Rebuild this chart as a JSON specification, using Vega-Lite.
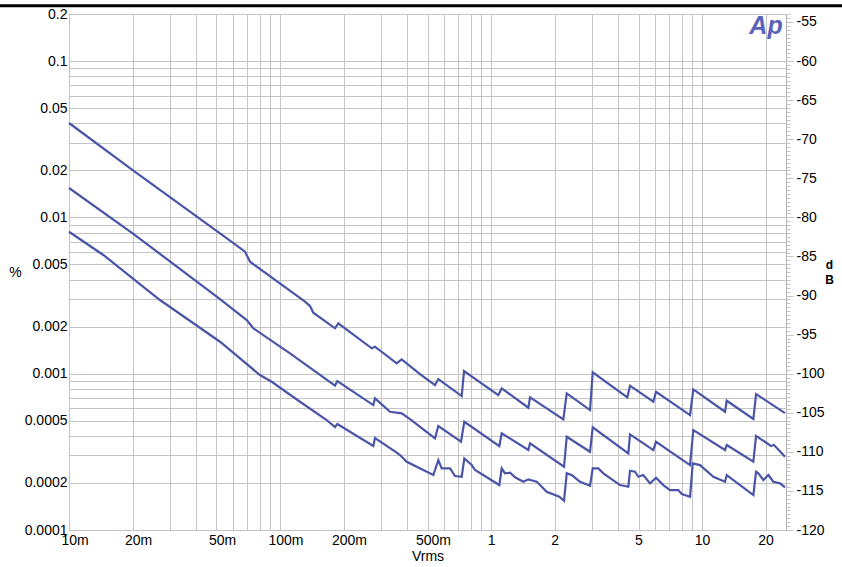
{
  "$schema": "https://vega.github.io/schema/vega-lite/v6.json",
  "width": 717,
  "height": 516,
  "autosize": {"type": "none"},
  "padding": {"left": 69, "top": 14, "right": 56, "bottom": 37},
  "background": "white",
  "config": {
    "view": {"stroke": "#b0b0b0", "strokeWidth": 1},
    "font": "Liberation Sans",
    "axis": {"labelFont": "Liberation Sans", "titleFont": "Liberation Sans"}
  },
  "datasets": {
    "curves": [
      {"s": "a", "v": 0.01, "pct": 0.04015},
      {"s": "a", "v": 0.02003, "pct": 0.020088},
      {"s": "a", "v": 0.05195, "pct": 0.0079057},
      {"s": "a", "v": 0.06827, "pct": 0.0060309},
      {"s": "a", "v": 0.0721, "pct": 0.0052033},
      {"s": "a", "v": 0.13136, "pct": 0.0028862},
      {"s": "a", "v": 0.13874, "pct": 0.0027078},
      {"s": "a", "v": 0.14382, "pct": 0.0024543},
      {"s": "a", "v": 0.18222, "pct": 0.0019513},
      {"s": "a", "v": 0.18889, "pct": 0.0020996},
      {"s": "a", "v": 0.27202, "pct": 0.001453},
      {"s": "a", "v": 0.28199, "pct": 0.0014876},
      {"s": "a", "v": 0.35725, "pct": 0.0011645},
      {"s": "a", "v": 0.37728, "pct": 0.0012352},
      {"s": "a", "v": 0.46075, "pct": 0.00099483},
      {"s": "a", "v": 0.54269, "pct": 0.0008463},
      {"s": "a", "v": 0.56264, "pct": 0.0009241},
      {"s": "a", "v": 0.72629, "pct": 0.00071938},
      {"s": "a", "v": 0.74472, "pct": 0.0010397},
      {"s": "a", "v": 1.0829, "pct": 0.00073007},
      {"s": "a", "v": 1.1238, "pct": 0.00080597},
      {"s": "a", "v": 1.5026, "pct": 0.00060547},
      {"s": "a", "v": 1.5307, "pct": 0.00070574},
      {"s": "a", "v": 1.8364, "pct": 0.00060013},
      {"s": "a", "v": 2.2013, "pct": 0.00051049},
      {"s": "a", "v": 2.2847, "pct": 0.00074859},
      {"s": "a", "v": 2.946, "pct": 0.00058527},
      {"s": "a", "v": 3.034, "pct": 0.00102},
      {"s": "a", "v": 4.4255, "pct": 0.00070574},
      {"s": "a", "v": 4.5579, "pct": 0.00083762},
      {"s": "a", "v": 5.8774, "pct": 0.00066124},
      {"s": "a", "v": 6.0531, "pct": 0.00076624},
      {"s": "a", "v": 8.7725, "pct": 0.00054384},
      {"s": "a", "v": 9.0945, "pct": 0.00079417},
      {"s": "a", "v": 12.853, "pct": 0.0005708},
      {"s": "a", "v": 13.094, "pct": 0.00067102},
      {"s": "a", "v": 17.508, "pct": 0.00051275},
      {"s": "a", "v": 18.031, "pct": 0.00074091},
      {"s": "a", "v": 24.737, "pct": 0.00056},
      {"s": "b", "v": 0.01, "pct": 0.01541},
      {"s": "b", "v": 0.02003, "pct": 0.0079057},
      {"s": "b", "v": 0.05195, "pct": 0.0030036},
      {"s": "b", "v": 0.06955, "pct": 0.0022041},
      {"s": "b", "v": 0.07474, "pct": 0.0019513},
      {"s": "b", "v": 0.11152, "pct": 0.0013499},
      {"s": "b", "v": 0.18222, "pct": 0.00083762},
      {"s": "b", "v": 0.18684, "pct": 0.00089727},
      {"s": "b", "v": 0.27681, "pct": 0.00063006},
      {"s": "b", "v": 0.28199, "pct": 0.00069545},
      {"s": "b", "v": 0.33209, "pct": 0.0005708},
      {"s": "b", "v": 0.37728, "pct": 0.00055753},
      {"s": "b", "v": 0.41315, "pct": 0.00051275},
      {"s": "b", "v": 0.54269, "pct": 0.0003859},
      {"s": "b", "v": 0.56264, "pct": 0.00046244},
      {"s": "b", "v": 0.72076, "pct": 0.00036704},
      {"s": "b", "v": 0.74716, "pct": 0.00049273},
      {"s": "b", "v": 1.0948, "pct": 0.00034443},
      {"s": "b", "v": 1.1238, "pct": 0.0004153},
      {"s": "b", "v": 1.5026, "pct": 0.0003247},
      {"s": "b", "v": 1.5307, "pct": 0.00035849},
      {"s": "b", "v": 2.2182, "pct": 0.00025387},
      {"s": "b", "v": 2.2847, "pct": 0.00039512},
      {"s": "b", "v": 2.946, "pct": 0.00031667},
      {"s": "b", "v": 3.034, "pct": 0.00045367},
      {"s": "b", "v": 4.4741, "pct": 0.0003093},
      {"s": "b", "v": 4.5579, "pct": 0.00040922},
      {"s": "b", "v": 5.8774, "pct": 0.0003247},
      {"s": "b", "v": 6.0531, "pct": 0.00036704},
      {"s": "b", "v": 8.7725, "pct": 0.0002603},
      {"s": "b", "v": 9.0945, "pct": 0.00043597},
      {"s": "b", "v": 12.853, "pct": 0.0003247},
      {"s": "b", "v": 13.094, "pct": 0.00034961},
      {"s": "b", "v": 17.508, "pct": 0.00027327},
      {"s": "b", "v": 18.031, "pct": 0.0003992},
      {"s": "b", "v": 20.26, "pct": 0.00036007},
      {"s": "b", "v": 21.24, "pct": 0.00034443},
      {"s": "b", "v": 21.94, "pct": 0.00034961},
      {"s": "b", "v": 24.737, "pct": 0.0002942},
      {"s": "c", "v": 0.01, "pct": 0.0080941},
      {"s": "c", "v": 0.01454, "pct": 0.0057448},
      {"s": "c", "v": 0.02003, "pct": 0.0040741},
      {"s": "c", "v": 0.02699, "pct": 0.0029598},
      {"s": "c", "v": 0.05195, "pct": 0.0016008},
      {"s": "c", "v": 0.08035, "pct": 0.00098028},
      {"s": "c", "v": 0.09135, "pct": 0.00088803},
      {"s": "c", "v": 0.12438, "pct": 0.00066124},
      {"s": "c", "v": 0.16644, "pct": 0.00050525},
      {"s": "c", "v": 0.18222, "pct": 0.00045568},
      {"s": "c", "v": 0.18684, "pct": 0.00047628},
      {"s": "c", "v": 0.27681, "pct": 0.00034443},
      {"s": "c", "v": 0.28199, "pct": 0.00038761},
      {"s": "c", "v": 0.35453, "pct": 0.00031528},
      {"s": "c", "v": 0.37035, "pct": 0.00030165},
      {"s": "c", "v": 0.39854, "pct": 0.00027327},
      {"s": "c", "v": 0.53271, "pct": 0.00022468},
      {"s": "c", "v": 0.56264, "pct": 0.0002802},
      {"s": "c", "v": 0.5839, "pct": 0.00024795},
      {"s": "c", "v": 0.6393, "pct": 0.00024795},
      {"s": "c", "v": 0.67517, "pct": 0.00022139},
      {"s": "c", "v": 0.72629, "pct": 0.00021912},
      {"s": "c", "v": 0.74716, "pct": 0.00028731},
      {"s": "c", "v": 0.81, "pct": 0.0002603},
      {"s": "c", "v": 0.83972, "pct": 0.00024182},
      {"s": "c", "v": 1.0948, "pct": 0.00019387},
      {"s": "c", "v": 1.1238, "pct": 0.00024795},
      {"s": "c", "v": 1.1651, "pct": 0.00023038},
      {"s": "c", "v": 1.2306, "pct": 0.00023242},
      {"s": "c", "v": 1.2996, "pct": 0.0002172},
      {"s": "c", "v": 1.4228, "pct": 0.00020354},
      {"s": "c", "v": 1.5026, "pct": 0.00021086},
      {"s": "c", "v": 1.6468, "pct": 0.00020354},
      {"s": "c", "v": 1.8364, "pct": 0.0001757},
      {"s": "c", "v": 2.1074, "pct": 0.00016321},
      {"s": "c", "v": 2.2182, "pct": 0.00015385},
      {"s": "c", "v": 2.2847, "pct": 0.00023038},
      {"s": "c", "v": 2.4128, "pct": 0.00022468},
      {"s": "c", "v": 2.6413, "pct": 0.00020354},
      {"s": "c", "v": 2.946, "pct": 0.00019188},
      {"s": "c", "v": 3.034, "pct": 0.00024795},
      {"s": "c", "v": 3.2255, "pct": 0.00024795},
      {"s": "c", "v": 3.4066, "pct": 0.00023038},
      {"s": "c", "v": 4.0871, "pct": 0.00019387},
      {"s": "c", "v": 4.4741, "pct": 0.00018907},
      {"s": "c", "v": 4.5579, "pct": 0.00023934},
      {"s": "c", "v": 4.8135, "pct": 0.00023585},
      {"s": "c", "v": 4.9899, "pct": 0.00021912},
      {"s": "c", "v": 5.2697, "pct": 0.00022468},
      {"s": "c", "v": 5.6694, "pct": 0.00019879},
      {"s": "c", "v": 6.0531, "pct": 0.00021592},
      {"s": "c", "v": 6.5558, "pct": 0.00019387},
      {"s": "c", "v": 7.0532, "pct": 0.00018015},
      {"s": "c", "v": 7.7209, "pct": 0.00018015},
      {"s": "c", "v": 8.0122, "pct": 0.00016983},
      {"s": "c", "v": 8.7725, "pct": 0.00016321},
      {"s": "c", "v": 9.035, "pct": 0.0002669},
      {"s": "c", "v": 9.7841, "pct": 0.0002603},
      {"s": "c", "v": 11.314, "pct": 0.00021912},
      {"s": "c", "v": 12.853, "pct": 0.00020354},
      {"s": "c", "v": 13.094, "pct": 0.00022468},
      {"s": "c", "v": 14.073, "pct": 0.0002087},
      {"s": "c", "v": 17.508, "pct": 0.00016735},
      {"s": "c", "v": 18.031, "pct": 0.00023585},
      {"s": "c", "v": 18.489, "pct": 0.00023038},
      {"s": "c", "v": 19.529, "pct": 0.0002087},
      {"s": "c", "v": 20.624, "pct": 0.00022468},
      {"s": "c", "v": 21.778, "pct": 0.00020354},
      {"s": "c", "v": 23.423, "pct": 0.00019879},
      {"s": "c", "v": 24.737, "pct": 0.0001874}
    ]
  },
  "layer": [
    {
      "layer": [
        {
          "data": {"name": "curves"},
          "mark": {"type": "line", "color": "#4a55a8", "strokeWidth": 2.2},
          "encoding": {
            "x": {
              "field": "v", "type": "quantitative",
              "scale": {"type": "log", "domain": [0.01, 25], "nice": false},
              "axis": {
                "values": [0.01, 0.02, 0.03, 0.04, 0.05, 0.06, 0.07, 0.08, 0.09, 0.1, 0.2, 0.3, 0.4, 0.5, 0.6, 0.7, 0.8, 0.9, 1, 2, 3, 4, 5, 6, 7, 8, 9, 10, 20],
                "labelExpr": "test(regexp('^[125]e'), format(datum.value, '.0e')) ? (datum.value < 0.95 ? format(datum.value * 1000, '.0f') + 'm' : format(datum.value, '.0f')) : ''",
                "grid": true, "gridColor": "#c4c4c4", "gridWidth": 1,
                "ticks": false, "domain": false,
                "labelFontSize": 14, "labelColor": "black", "labelPadding": 3,
                "labelOverlap": false, "labelFlush": false, "labelBound": false,
                "labelOffset": {"condition": {"test": "datum.value < 0.95", "value": 5.5}, "value": 0},
                "title": "Vrms", "titleFontSize": 14, "titleFontWeight": "normal", "titleColor": "black", "titlePadding": 2
              }
            },
            "y": {
              "field": "pct", "type": "quantitative",
              "scale": {"type": "log", "domain": [0.0001, 0.2], "nice": false},
              "axis": {
                "values": [0.0001, 0.0002, 0.0003, 0.0004, 0.0005, 0.0006, 0.0007, 0.0008, 0.0009, 0.001, 0.002, 0.003, 0.004, 0.005, 0.006, 0.007, 0.008, 0.009, 0.01, 0.02, 0.03, 0.04, 0.05, 0.06, 0.07, 0.08, 0.09, 0.1, 0.2],
                "labelExpr": "test(regexp('^[125]e'), format(datum.value, '.0e')) ? format(datum.value, '~g') : ''",
                "grid": true, "gridColor": "#c4c4c4", "gridWidth": 1,
                "ticks": false, "domain": false,
                "labelFontSize": 14, "labelColor": "black", "labelPadding": 2,
                "labelOverlap": false, "labelFlush": false, "labelBound": false,
                "title": "%", "titleAngle": 0, "titleFontSize": 14, "titleFontWeight": "normal", "titleColor": "black",
                "titleX": -54, "titleY": 258, "titleAlign": "center", "titleBaseline": "middle"
              }
            },
            "detail": {"field": "s"}
          }
        },
        {
          "data": {"values": [{"logo": "Ap"}]},
          "mark": {"type": "text", "font": "Liberation Sans", "fontSize": 25, "fontStyle": "italic", "fontWeight": "bold", "color": "#5a63b8", "align": "center", "baseline": "alphabetic", "letterSpacing": -2},
          "encoding": {
            "text": {"field": "logo"},
            "x": {"datum": 20.1, "type": "quantitative", "scale": {"type": "log", "domain": [0.01, 25], "nice": false}},
            "y": {"datum": 0.148, "type": "quantitative", "scale": {"type": "log", "domain": [0.0001, 0.2], "nice": false}}
          }
        },
        {
          "data": {"values": [{"edge": "top"}]},
          "mark": {"type": "rule", "color": "black", "strokeWidth": 3, "clip": false},
          "encoding": {
            "x": {"datum": 0.0045, "type": "quantitative", "scale": {"type": "log", "domain": [0.01, 25], "nice": false}},
            "x2": {"datum": 50},
            "y": {"datum": 0.226, "type": "quantitative", "scale": {"type": "log", "domain": [0.0001, 0.2], "nice": false}}
          }
        }
      ]
    },
    {
      "data": {"values": [{"db": -100}]},
      "mark": {"type": "point", "opacity": 0},
      "encoding": {
        "y": {
          "field": "db", "type": "quantitative",
          "scale": {"domain": [-120, -53.979], "nice": false, "zero": false},
          "axis": {
            "orient": "right",
            "tickCount": 130,
            "labelExpr": "datum.value % 5 === 0 ? '' + datum.value : ''",
            "grid": false, "domain": false,
            "ticks": true, "tickColor": "#c4c4c4",
            "tickSize": {"condition": {"test": "datum.value % 5 === 0", "value": 7}, "value": 4},
            "labelFontSize": 14, "labelColor": "black", "labelPadding": 3,
            "labelOverlap": false, "labelFlush": false, "labelBound": false,
            "title": ["d", "B"], "titleAngle": 0, "titleFontSize": 12, "titleFontWeight": "bold", "titleColor": "black",
            "titleX": 43, "titleY": 250, "titleAlign": "center", "titleBaseline": "middle", "titleLineHeight": 15
          }
        }
      }
    }
  ],
  "resolve": {"scale": {"y": "independent"}, "axis": {"y": "independent"}}
}
